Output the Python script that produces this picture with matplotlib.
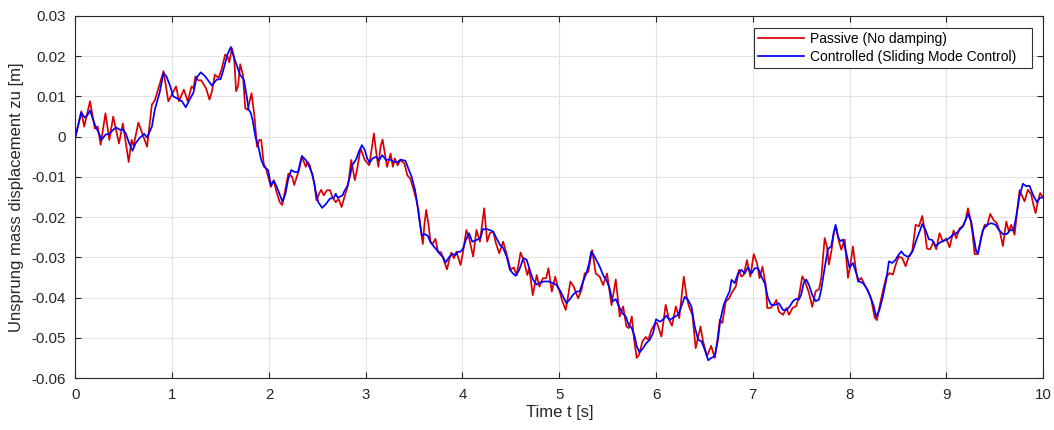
import numpy as np
import matplotlib
matplotlib.use("Agg")
import matplotlib.pyplot as plt

# Passive suspension (no damping): time [s] and unsprung mass displacement [m]
t_passive = [
    0.0, 0.06, 0.09, 0.15, 0.2, 0.23, 0.26, 0.31, 0.35, 0.39, 0.45, 0.49, 0.55, 0.58, 0.60, 0.65,
    0.68, 0.74, 0.79, 0.82, 0.91, 0.96, 1.04, 1.07, 1.12, 1.16, 1.20, 1.22, 1.24, 1.27, 1.30, 1.35,
    1.385, 1.41, 1.44, 1.48, 1.51, 1.547, 1.57, 1.59, 1.617, 1.64, 1.66, 1.68, 1.703, 1.73, 1.755,
    1.78, 1.82, 1.85, 1.876, 1.90, 1.92, 1.945, 1.97, 2.02, 2.05, 2.077, 2.11, 2.136, 2.17, 2.20,
    2.24, 2.26, 2.31, 2.34, 2.38, 2.40, 2.42, 2.47, 2.49, 2.517, 2.54, 2.565, 2.60, 2.63, 2.655,
    2.69, 2.72, 2.75, 2.78, 2.82, 2.85, 2.887, 2.91, 2.946, 2.99, 3.036, 3.06, 3.084, 3.105, 3.13,
    3.153, 3.174, 3.20, 3.22, 3.257, 3.28, 3.30, 3.33, 3.36, 3.40, 3.43, 3.46, 3.486, 3.52, 3.545,
    3.57, 3.59, 3.607, 3.625, 3.65, 3.67, 3.69, 3.72, 3.747, 3.78, 3.805, 3.84, 3.867, 3.885, 3.91,
    3.937, 3.98, 4.006, 4.04, 4.068, 4.11, 4.144, 4.18, 4.224, 4.255, 4.283, 4.317, 4.345, 4.38,
    4.42, 4.463, 4.497, 4.53, 4.56, 4.60, 4.636, 4.67, 4.69, 4.726, 4.767, 4.795, 4.83, 4.864,
    4.888, 4.923, 4.958, 4.98, 5.01, 5.033, 5.067, 5.09, 5.115, 5.15, 5.195, 5.23, 5.263, 5.30,
    5.34, 5.377, 5.418, 5.453, 5.494, 5.54, 5.584, 5.625, 5.66, 5.694, 5.72, 5.75, 5.77, 5.80,
    5.825, 5.86, 5.894, 5.92, 5.953, 5.987, 6.01, 6.056, 6.10, 6.135, 6.165, 6.205, 6.24, 6.287,
    6.314, 6.34, 6.376, 6.41, 6.46, 6.486, 6.527, 6.57, 6.607, 6.63, 6.66, 6.686, 6.72, 6.755,
    6.79, 6.824, 6.858, 6.882, 6.906, 6.94, 6.975, 7.01, 7.044, 7.07, 7.10, 7.134, 7.15, 7.182,
    7.216, 7.244, 7.27, 7.313, 7.347, 7.375, 7.41, 7.45, 7.477, 7.512, 7.546, 7.58, 7.615, 7.65,
    7.684, 7.708, 7.743, 7.767, 7.787, 7.815, 7.839, 7.863, 7.89, 7.915, 7.95, 7.984, 8.007,
    8.035, 8.063, 8.087, 8.121, 8.156, 8.19, 8.225, 8.26, 8.283, 8.318, 8.352, 8.38, 8.414,
    8.448, 8.483, 8.51, 8.545, 8.58, 8.613, 8.648, 8.683, 8.717, 8.752, 8.776, 8.80, 8.834,
    8.869, 8.896, 8.93, 8.965, 9.0, 9.034, 9.076, 9.103, 9.137, 9.172, 9.2, 9.224, 9.248, 9.275,
    9.293, 9.327, 9.361, 9.396, 9.42, 9.454, 9.49, 9.523, 9.558, 9.585, 9.62, 9.647, 9.671,
    9.706, 9.73, 9.757, 9.785, 9.809, 9.843, 9.878, 9.90, 9.923, 9.947, 9.97, 10.0,
]
z_passive = [
    0.0, 0.0063, 0.0025, 0.0088, 0.002, 0.0025, -0.002, 0.0058, -0.0008, 0.005, -0.0017, 0.0033,
    -0.0063, -0.0008, -0.0023, 0.0035, 0.0015, -0.0025, 0.008, 0.009, 0.0163, 0.0088, 0.0125,
    0.0088, 0.0117, 0.0088, 0.0125, 0.012, 0.015, 0.014, 0.014, 0.012, 0.0092, 0.0112, 0.0154,
    0.0146, 0.0167, 0.0204, 0.020, 0.0185, 0.022, 0.0196, 0.0113, 0.0125, 0.018, 0.0154, 0.007,
    0.0067, 0.0108, 0.005, -0.0025, -0.0008, -0.0008, -0.0067, -0.008, -0.0125, -0.0108, -0.0137,
    -0.0162, -0.017, -0.013, -0.0092, -0.010, -0.012, -0.0083, -0.005, -0.0075, -0.0063, -0.007,
    -0.0117, -0.0158, -0.0142, -0.0132, -0.0146, -0.0133, -0.0133, -0.015, -0.0163, -0.0155,
    -0.0175, -0.015, -0.0117, -0.0058, -0.0108, -0.0083, -0.0029, -0.0058, -0.0071, -0.0033,
    0.0008, -0.0033, -0.0075, -0.0025, -0.0007, -0.0046, -0.0075, -0.0042, -0.0075, -0.0054,
    -0.0071, -0.0058, -0.0067, -0.0096, -0.0104, -0.0125, -0.0154, -0.0183, -0.0233, -0.0267,
    -0.0217, -0.0182, -0.0221, -0.0263, -0.0267, -0.0254, -0.0286, -0.0288, -0.0306, -0.033,
    -0.0302, -0.0288, -0.0302, -0.0286, -0.0319, -0.0286, -0.0232, -0.0252, -0.0298, -0.0232,
    -0.0261, -0.0178, -0.0261, -0.024, -0.0236, -0.0265, -0.029, -0.0261, -0.0298, -0.0331,
    -0.0325, -0.0344, -0.0288, -0.031, -0.0344, -0.0327, -0.0394, -0.0344, -0.0373, -0.0352,
    -0.0352, -0.0327, -0.0385, -0.0348, -0.0369, -0.039, -0.041, -0.0431, -0.0398, -0.036,
    -0.0373, -0.0402, -0.0381, -0.034, -0.0336, -0.0282, -0.034, -0.0348, -0.0369, -0.034,
    -0.0419, -0.0355, -0.0447, -0.0422, -0.0472, -0.0476, -0.0447, -0.0497, -0.055, -0.0542,
    -0.0509, -0.0498, -0.0505, -0.048, -0.0465, -0.0463, -0.0497, -0.0418, -0.0455, -0.047,
    -0.0422, -0.0451, -0.0348, -0.0394, -0.0422, -0.0443, -0.0526, -0.0472, -0.0509, -0.0546,
    -0.052, -0.055, -0.0513, -0.0455, -0.0463, -0.041, -0.0402, -0.0385, -0.0373, -0.0331,
    -0.0348, -0.0344, -0.0307, -0.0348, -0.0292, -0.0315, -0.0352, -0.0323, -0.0369, -0.0426,
    -0.0426, -0.0418, -0.0406, -0.0435, -0.0443, -0.0426, -0.0443, -0.0426, -0.0421, -0.0397,
    -0.0347, -0.0364, -0.0388, -0.0423, -0.0384, -0.038, -0.0351, -0.0252, -0.0273, -0.0318,
    -0.0281, -0.0236, -0.0227, -0.026, -0.0281, -0.0256, -0.0351, -0.0322, -0.0273, -0.0326,
    -0.036, -0.0351, -0.0368, -0.0382, -0.0405, -0.045, -0.0456, -0.0413, -0.0376, -0.0349,
    -0.0339, -0.0343, -0.0314, -0.0298, -0.0302, -0.0322, -0.0298, -0.0285, -0.0219, -0.0223,
    -0.0197, -0.0232, -0.0278, -0.028, -0.0261, -0.028, -0.024, -0.0261, -0.0253, -0.0275,
    -0.0233, -0.0253, -0.0228, -0.0222, -0.0207, -0.0178, -0.0203, -0.0248, -0.0292, -0.0292,
    -0.0248, -0.0219, -0.0223, -0.0192, -0.0208, -0.0215, -0.024, -0.0272, -0.0211, -0.0236,
    -0.0219, -0.0244, -0.019, -0.0133, -0.0148, -0.0161, -0.0132, -0.0144, -0.0169, -0.019,
    -0.0161, -0.014, -0.0152,
]

# Sliding mode controlled suspension: time [s] and unsprung mass displacement [m]
t_controlled = [
    0.0, 0.06, 0.093, 0.12, 0.15, 0.2, 0.25, 0.27, 0.31, 0.35, 0.39, 0.42, 0.46, 0.49, 0.52, 0.55,
    0.59, 0.62, 0.66, 0.71, 0.74, 0.79, 0.82, 0.87, 0.91, 0.94, 0.98, 1.01, 1.045, 1.1, 1.14,
    1.18, 1.22, 1.25, 1.295, 1.34, 1.41, 1.46, 1.5, 1.53, 1.57, 1.606, 1.634, 1.67, 1.70, 1.74,
    1.77, 1.79, 1.81, 1.83, 1.86, 1.89, 1.92, 1.95, 1.99, 2.02, 2.05, 2.08, 2.10, 2.14, 2.17,
    2.20, 2.23, 2.27, 2.30, 2.34, 2.38, 2.41, 2.45, 2.48, 2.51, 2.55, 2.59, 2.63, 2.67, 2.69,
    2.71, 2.76, 2.78, 2.81, 2.835, 2.86, 2.90, 2.93, 2.96, 2.99, 3.015, 3.04, 3.07, 3.105, 3.14,
    3.17, 3.21, 3.25, 3.29, 3.33, 3.36, 3.41, 3.44, 3.475, 3.51, 3.53, 3.555, 3.58, 3.607, 3.64,
    3.665, 3.70, 3.735, 3.76, 3.80, 3.826, 3.86, 3.895, 3.93, 3.954, 3.98, 4.006, 4.034, 4.068,
    4.10, 4.144, 4.186, 4.21, 4.255, 4.28, 4.317, 4.35, 4.387, 4.42, 4.456, 4.49, 4.525, 4.55,
    4.587, 4.63, 4.663, 4.70, 4.73, 4.767, 4.80, 4.843, 4.888, 4.923, 4.968, 5.005, 5.04, 5.074,
    5.11, 5.143, 5.177, 5.21, 5.246, 5.28, 5.308, 5.33, 5.356, 5.384, 5.418, 5.453, 5.494, 5.52,
    5.55, 5.584, 5.618, 5.653, 5.687, 5.72, 5.746, 5.78, 5.80, 5.83, 5.866, 5.90, 5.935, 5.97,
    6.00, 6.04, 6.07, 6.107, 6.14, 6.176, 6.228, 6.262, 6.297, 6.33, 6.366, 6.40, 6.435, 6.47,
    6.504, 6.54, 6.57, 6.607, 6.64, 6.665, 6.70, 6.734, 6.76, 6.78, 6.813, 6.848, 6.882, 6.917,
    6.95, 6.986, 7.02, 7.055, 7.09, 7.123, 7.158, 7.19, 7.227, 7.27, 7.313, 7.35, 7.382, 7.415,
    7.45, 7.477, 7.50, 7.526, 7.553, 7.58, 7.615, 7.65, 7.684, 7.708, 7.743, 7.777, 7.81, 7.836,
    7.856, 7.88, 7.905, 7.932, 7.966, 8.0, 8.035, 8.063, 8.097, 8.14, 8.18, 8.214, 8.25, 8.276,
    8.31, 8.345, 8.38, 8.407, 8.442, 8.476, 8.50, 8.535, 8.56, 8.593, 8.62, 8.655, 8.69, 8.724,
    8.752, 8.786, 8.82, 8.855, 8.89, 8.924, 8.958, 8.993, 9.027, 9.069, 9.103, 9.137, 9.172,
    9.20, 9.224, 9.258, 9.282, 9.31, 9.327, 9.35, 9.379, 9.42, 9.465, 9.51, 9.544, 9.585, 9.627,
    9.661, 9.695, 9.723, 9.757, 9.792, 9.826, 9.86, 9.895, 9.937, 9.964, 10.0,
]
z_controlled = [
    0.0, 0.006, 0.0048, 0.0052, 0.0065, 0.003, 0.0004, -0.0008, 0.0005, 0.0007, 0.0017, 0.0023,
    0.0017, 0.0018, 0.0008, -0.0013, -0.0035, -0.0017, -0.0004, 0.0007, -0.0002, 0.0025, 0.0067,
    0.011, 0.0158, 0.015, 0.0125, 0.010, 0.0096, 0.0088, 0.0073, 0.0092, 0.011, 0.0146, 0.016,
    0.015, 0.0127, 0.0142, 0.0143, 0.0167, 0.0204, 0.0223, 0.020, 0.0175, 0.0154, 0.0142, 0.010,
    0.0067, 0.006, 0.0042, 0.0, -0.0025, -0.0058, -0.0075, -0.0083, -0.012, -0.011, -0.0125,
    -0.0137, -0.0162, -0.0142, -0.0104, -0.0083, -0.0088, -0.0088, -0.0048, -0.0058, -0.0071,
    -0.0094, -0.0133, -0.0163, -0.0177, -0.0167, -0.0154, -0.0152, -0.0142, -0.0152, -0.0146,
    -0.0135, -0.0123, -0.010, -0.0071, -0.0057, -0.0037, -0.0021, -0.0033, -0.0054, -0.0065,
    -0.0054, -0.005, -0.0058, -0.0046, -0.0058, -0.0057, -0.0063, -0.0063, -0.0057, -0.006,
    -0.0079, -0.010, -0.0133, -0.0163, -0.0208, -0.0246, -0.0242, -0.0246, -0.026, -0.0272,
    -0.0282, -0.029, -0.030, -0.0313, -0.030, -0.0292, -0.0294, -0.0286, -0.0286, -0.0278,
    -0.0257, -0.024, -0.0261, -0.0257, -0.0252, -0.023, -0.023, -0.0232, -0.0236, -0.0252,
    -0.0269, -0.0277, -0.0298, -0.0331, -0.0341, -0.0346, -0.0331, -0.0302, -0.0306, -0.0335,
    -0.0356, -0.0368, -0.0363, -0.036, -0.036, -0.0363, -0.0368, -0.0381, -0.0398, -0.0414,
    -0.0404, -0.0393, -0.0385, -0.0385, -0.036, -0.034, -0.0315, -0.0286, -0.0294, -0.0307,
    -0.0323, -0.0344, -0.036, -0.0377, -0.041, -0.0404, -0.0422, -0.0439, -0.0447, -0.047,
    -0.0474, -0.0497, -0.0521, -0.0536, -0.0526, -0.0513, -0.0505, -0.0488, -0.0454, -0.046,
    -0.0455, -0.0445, -0.0456, -0.045, -0.0443, -0.0422, -0.0398, -0.0406, -0.0422, -0.0472,
    -0.0505, -0.0509, -0.053, -0.0556, -0.055, -0.0546, -0.0505, -0.0455, -0.0418, -0.0398,
    -0.0385, -0.0356, -0.0364, -0.034, -0.0331, -0.034, -0.0325, -0.034, -0.0327, -0.0327,
    -0.0348, -0.0364, -0.0402, -0.0418, -0.0418, -0.0414, -0.0431, -0.0431, -0.0422, -0.0409,
    -0.0403, -0.0405, -0.0393, -0.0364, -0.0355, -0.0368, -0.0393, -0.0409, -0.0405, -0.038,
    -0.0326, -0.0279, -0.0273, -0.024, -0.0219, -0.0248, -0.026, -0.0256, -0.0289, -0.0326,
    -0.0314, -0.0335, -0.036, -0.0364, -0.0379, -0.0397, -0.0421, -0.0448, -0.043, -0.0397,
    -0.0355, -0.031, -0.0314, -0.0306, -0.0296, -0.0285, -0.0293, -0.0298, -0.0297, -0.0283,
    -0.0257, -0.0236, -0.0217, -0.0232, -0.0255, -0.0257, -0.0273, -0.0265, -0.026, -0.0257,
    -0.0253, -0.0244, -0.024, -0.0232, -0.0223, -0.0207, -0.0192, -0.0211, -0.0248, -0.0286,
    -0.029, -0.0265, -0.0232, -0.0219, -0.0215, -0.0219, -0.0232, -0.0242, -0.0242, -0.0232,
    -0.0233, -0.0198, -0.0148, -0.0117, -0.0123, -0.0122, -0.0144, -0.0163, -0.0153, -0.015,
]

x_ticks = [0, 1, 2, 3, 4, 5, 6, 7, 8, 9, 10]
y_ticks = [-0.06, -0.05, -0.04, -0.03, -0.02, -0.01, 0, 0.01, 0.02, 0.03]
y_tick_labels = ["-0.06", "-0.05", "-0.04", "-0.03", "-0.02", "-0.01", "0", "0.01", "0.02", "0.03"]

plt.rcParams["font.family"] = ["Liberation Sans", "DejaVu Sans"]
axis_gray = "#262626"

fig = plt.figure(figsize=(10.54, 4.30), dpi=100)
ax = fig.add_axes([0.0716, 0.1209, 0.9180, 0.8419])

ax.plot(t_passive, z_passive, color="#d90000", lw=1.25, label="Passive (No damping)")
ax.plot(t_controlled, z_controlled, color="#0000ff", lw=1.25, label="Controlled (Sliding Mode Control)")

ax.set_xlim(0, 10)
ax.set_ylim(-0.06, 0.03)
ax.set_xticks(x_ticks)
ax.set_yticks(y_ticks)
ax.set_yticklabels(y_tick_labels)

ax.grid(True, color="#e3e3e3", lw=0.8)
ax.set_axisbelow(True)
for side in ax.spines.values():
    side.set_color(axis_gray)
    side.set_linewidth(0.8)
ax.tick_params(direction="in", length=4, width=0.8, colors=axis_gray,
               labelsize=10.8, top=True, right=True, pad=7)

ax.set_xlabel("Time t [s]", fontsize=12, color=axis_gray, labelpad=2)
ax.set_ylabel("Unsprung mass displacement zu [m]", fontsize=12, color=axis_gray, labelpad=5)

# single-column legend stretched over a fixed box in the upper right corner
leg = ax.legend(loc="upper left", bbox_to_anchor=(0.701, 0.967, 0.2872, 0.0), mode="expand",
                fontsize=10, frameon=True, fancybox=False, framealpha=1, edgecolor="#333333",
                handlelength=3.3, handletextpad=0.45, borderpad=0.3, labelspacing=0.3,
                borderaxespad=0)
leg.get_frame().set_linewidth(0.8)

fig.savefig("out.png", dpi=100)
